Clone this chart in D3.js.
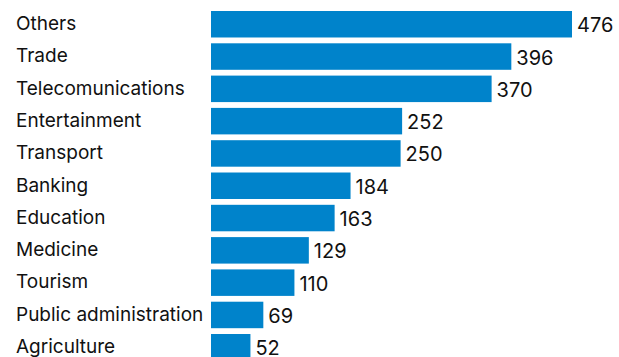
<!DOCTYPE html>
<html><head><meta charset="utf-8">
<script src="https://cdn.jsdelivr.net/npm/d3@7"></script>
<style>
html,body{margin:0;padding:0;background:#fff;}
svg{display:block;}
</style></head>
<body>
<script>
const categories = ["Others","Trade","Telecomunications","Entertainment","Transport","Banking","Education","Medicine","Tourism","Public administration","Agriculture"];
const values = [476,396,370,252,250,184,163,129,110,69,52];

const W = 619, H = 357;
const svg = d3.select("body").append("svg").attr("width", W).attr("height", H);

const x = d3.scaleLinear().domain([0, 476]).range([211, 572]);
const y = d3.scaleBand().domain(categories).range([11, 360.5]).paddingInner(0.18).paddingOuter(0);

const font = "Inter, 'Open Sans', sans-serif";

svg.selectAll("rect.bar").data(categories).enter().append("rect")
  .attr("class","bar")
  .attr("x", x(0))
  .attr("y", d => y(d))
  .attr("width", (d,i) => x(values[i]) - x(0))
  .attr("height", y.bandwidth())
  .attr("fill", "#0083CB");

svg.selectAll("text.cat").data(categories).enter().append("text")
  .attr("class","cat")
  .attr("x", 16)
  .attr("y", d => y(d) + y.bandwidth()/2 + 5.8)
  .attr("font-family", font)
  .attr("font-size", 19)
  .attr("fill", "#111")
  .text(d => d);

svg.selectAll("text.val").data(categories).enter().append("text")
  .attr("class","val")
  .attr("x", (d,i) => x(values[i]) + 5)
  .attr("y", d => y(d) + y.bandwidth()/2 + 8)
  .attr("font-family", font)
  .attr("font-size", 20)
  .attr("fill", "#111")
  .text((d,i) => values[i]);
</script>
</body></html>
